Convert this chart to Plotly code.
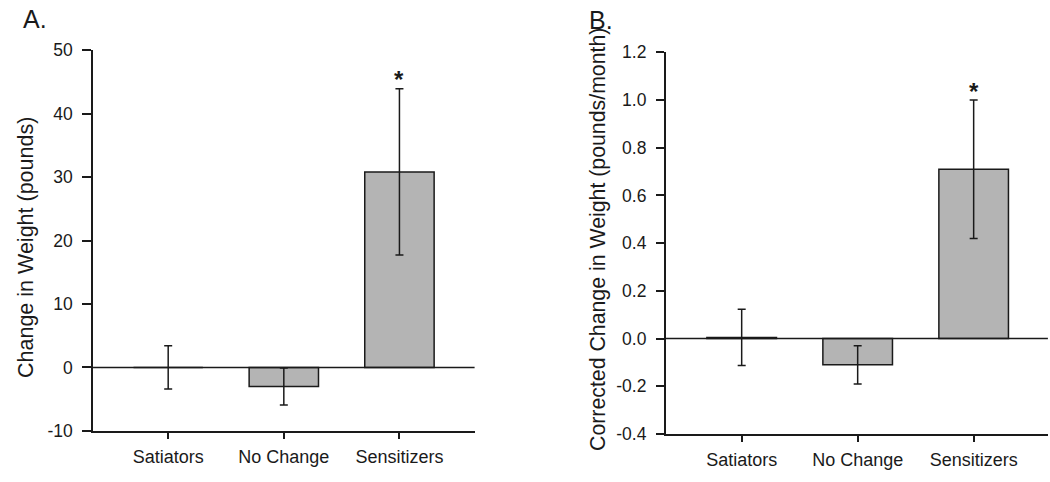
import plotly.graph_objects as go

categories = ["Satiators", "No Change", "Sensitizers"]

# Panel A: change in weight (pounds)
a_means = [0.0, -3.0, 30.8]
a_errors = [3.4, 2.9, 13.1]

# Panel B: corrected change in weight (pounds/month)
b_means = [0.005, -0.11, 0.71]
b_errors = [0.118, 0.08, 0.29]

a_ticks = [-10, 0, 10, 20, 30, 40, 50]
a_ticklabels = ["-10", "0", "10", "20", "30", "40", "50"]
b_ticks = [-0.4, -0.2, 0.0, 0.2, 0.4, 0.6, 0.8, 1.0, 1.2]
b_ticklabels = ["-0.4", "-0.2", "0.0", "0.2", "0.4", "0.6", "0.8", "1.0", "1.2"]

FONT = "Arial, 'Liberation Sans', sans-serif"
BAR_COLOR = "#b4b4b4"
INK = "#1a1a1a"

fig = go.Figure()

fig.add_trace(go.Bar(
    x=categories, y=a_means, width=0.6,
    marker=dict(color=BAR_COLOR, line=dict(color=INK, width=1.5)),
    error_y=dict(type="data", array=a_errors, color=INK, thickness=1.5, width=4),
    xaxis="x", yaxis="y", showlegend=False,
))
fig.add_trace(go.Bar(
    x=categories, y=b_means, width=0.6,
    marker=dict(color=BAR_COLOR, line=dict(color=INK, width=1.5)),
    error_y=dict(type="data", array=b_errors, color=INK, thickness=1.5, width=4),
    xaxis="x2", yaxis="y2", showlegend=False,
))

axis_common = dict(
    showline=True, linecolor=INK, linewidth=1.5, showgrid=False, zeroline=False,
    ticks="outside", tickcolor=INK, tickwidth=1.5, automargin=False,
)
xfont = dict(family=FONT, size=18, color=INK)
yfont = dict(family=FONT, size=17.5, color=INK)

fig.update_layout(
    width=1050, height=482,
    margin=dict(l=0, r=0, t=0, b=0),
    paper_bgcolor="white", plot_bgcolor="white",
    xaxis=dict(domain=[0.0886, 0.452], range=[-0.65, 2.65], anchor="y", ticklen=6,
               tickfont=xfont, ticklabelstandoff=3, **axis_common),
    yaxis=dict(domain=[0.106, 0.896], range=[-10, 50], tickvals=a_ticks, ticktext=a_ticklabels,
               anchor="x", ticklen=9, tickfont=yfont, ticklabelstandoff=6, **axis_common),
    xaxis2=dict(domain=[0.634, 0.998], range=[-0.655, 2.64], anchor="y2", ticklen=6,
                tickfont=xfont, ticklabelstandoff=3, **axis_common),
    yaxis2=dict(domain=[0.0996, 0.8915], range=[-0.4, 1.2], tickvals=b_ticks, ticktext=b_ticklabels,
                anchor="x2", ticklen=8, tickfont=yfont, ticklabelstandoff=6, **axis_common),
    font=dict(family=FONT, color=INK),
)

# zero lines
fig.add_shape(type="line", xref="x domain", yref="y", x0=0, x1=1, y0=0, y1=0,
              line=dict(color=INK, width=1.5))
fig.add_shape(type="line", xref="x2 domain", yref="y2", x0=0, x1=1, y0=0, y1=0,
              line=dict(color=INK, width=1.5))

# significance markers
fig.add_annotation(x=categories[2], y=a_means[2] + a_errors[2], xref="x", yref="y",
                   text="<b>*</b>", showarrow=False, yshift=9,
                   font=dict(family=FONT, size=24, color=INK))
fig.add_annotation(x=categories[2], y=b_means[2] + b_errors[2], xref="x2", yref="y2",
                   text="<b>*</b>", showarrow=False, yshift=9,
                   font=dict(family=FONT, size=24, color=INK))

def px_annotation(x, y, text, size, angle=0):
    fig.add_annotation(x=x / 1050, y=1 - y / 482, xref="paper", yref="paper",
                       xanchor="center", yanchor="middle", text=text, textangle=angle,
                       showarrow=False, font=dict(family=FONT, size=size, color=INK))

# y titles
px_annotation(26, 248, "Change in Weight (pounds)", 21.5, -90)
px_annotation(598, 240, "Corrected Change in Weight (pounds/month)", 21.3, -90)

# panel letters
px_annotation(35, 19, "A.", 25)
px_annotation(601, 20, "B.", 25)

fig.write_html("out.html", config={"displayModeBar": False},
               post_script="document.body.style.margin='0';")
